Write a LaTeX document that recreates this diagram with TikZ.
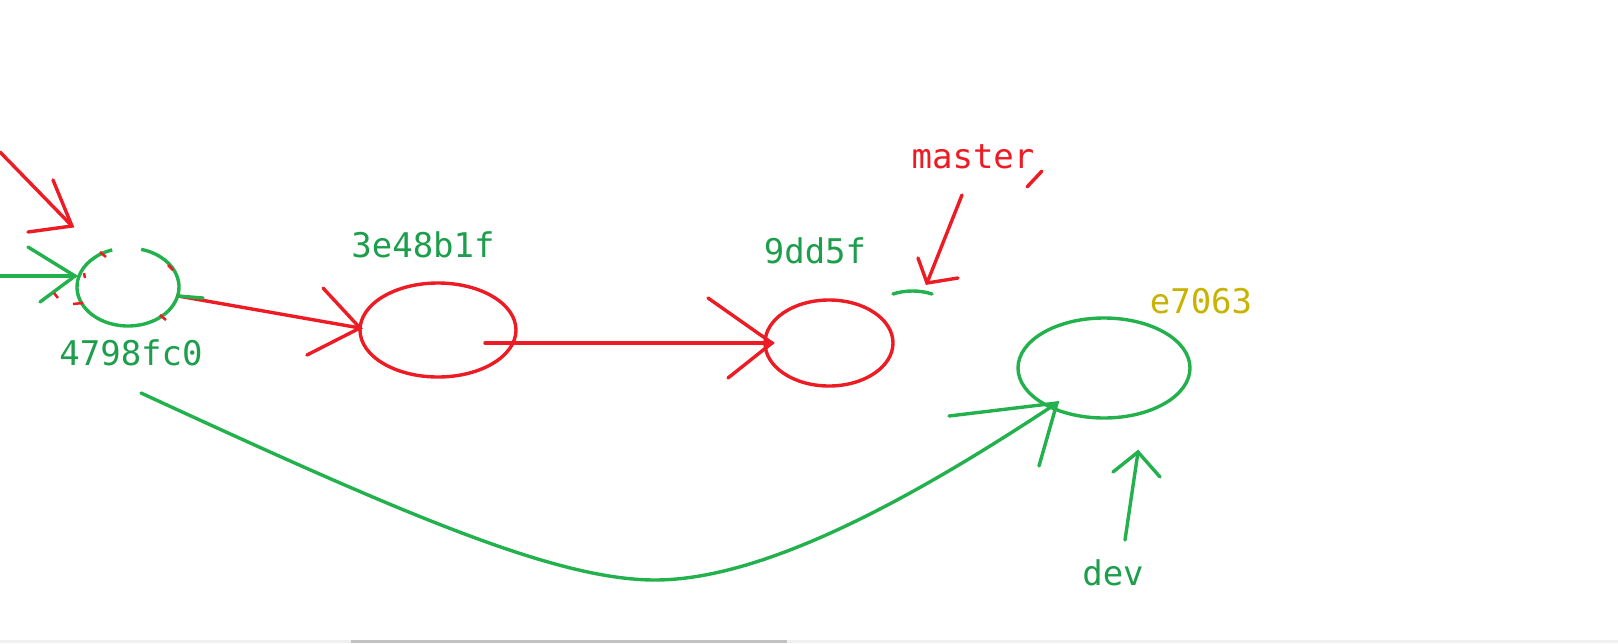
\documentclass[tikz,border=0pt]{standalone}
\usepackage{fontspec}
\newfontfamily\lblfont{DejaVu Sans Mono}
\usetikzlibrary{shapes.geometric}
\definecolor{pred}{HTML}{ED1C24}
\definecolor{pgreen}{HTML}{22B14C}
\definecolor{tgreen}{HTML}{1C9E4C}
\definecolor{tyellow}{HTML}{C8B400}
\begin{document}
\begin{tikzpicture}[x=1pt,y=-1pt,
  redline/.style={draw=pred,line width=3.4pt,line cap=round},
  greenline/.style={draw=pgreen,line width=3.4pt,line cap=round},
  lbl/.style={anchor=base,inner sep=0pt,font=\lblfont\fontsize{34}{40}\selectfont}]
\useasboundingbox (0,0) rectangle (1618,643);
\fill[white] (0,0) rectangle (1618,643);
% scrollbar at the bottom
\fill[black!6] (0,640) rectangle (1618,643);
\fill[black!24] (351,640) rectangle (787,643);
% commits
\node[draw=none,minimum width=102pt,minimum height=78pt,inner sep=0pt] (c1) at (128,287) {};
\draw[greenline,line cap=butt] (128,287) ++(-75:51 and 39) arc[start angle=-75,end angle=252,x radius=51,y radius=39];
\node[draw=pred,line width=3.4pt,ellipse,minimum width=156pt,minimum height=94pt,inner sep=0pt] (c2) at (438,330) {};
\node[draw=pred,line width=3.4pt,ellipse,minimum width=128pt,minimum height=86pt,inner sep=0pt] (c3) at (829,343) {};
\node[draw=pgreen,line width=3.4pt,ellipse,minimum width=172pt,minimum height=100pt,inner sep=0pt] (c4) at (1104,368) {};
% labels
\node[lbl,text=tgreen] (l1) at (131,365) {4798fc0};
\node[lbl,text=tgreen] (l2) at (423,257) {3e48b1f};
\node[lbl,text=tgreen] (l3) at (815,263) {9dd5f};
\node[lbl,text=pred] (lm) at (973,168) {master};
\node[lbl,text=tyellow] (l4) at (1201,313) {e7063};
\node[lbl,text=tgreen] (ld) at (1113,585) {dev};
% coordinates
\coordinate (inR) at (0,152);
\coordinate (tipR) at (72,226);
\coordinate (hR1) at (53,180);
\coordinate (hR2) at (28,232);
\coordinate (inG) at (0,276);
\coordinate (tipG) at (75,276);
\coordinate (hG1) at (28,247);
\coordinate (hG2) at (40,302);
\coordinate (a1s) at (178,296);
\coordinate (a1t) at (360,328);
\coordinate (a1h1) at (323,288);
\coordinate (a1h2) at (307,355);
\coordinate (a2s) at (485,343);
\coordinate (a2t) at (772,343);
\coordinate (a2h1) at (708,298);
\coordinate (a2h2) at (728,378);
\coordinate (ms) at (962,195);
\coordinate (mt) at (927,283);
\coordinate (mh1) at (918,258);
\coordinate (mh2) at (958,278);
\coordinate (cs) at (141,393);
\coordinate (cb) at (655,580);
\coordinate (ct) at (1057,403);
\coordinate (ch1) at (949,416);
\coordinate (ch2) at (1039,466);
\coordinate (ds) at (1125,540);
\coordinate (dt) at (1138,452);
\coordinate (dh1) at (1113,472);
\coordinate (dh2) at (1160,477);
% left incoming arrows
\draw[redline] (inR) -- (tipR);
\draw[redline] (hR1) -- (tipR) -- (hR2);
\draw[greenline] (inG) -- (tipG);
\draw[greenline] (hG1) -- (tipG) -- (hG2);
% red remnants on c1
\draw[draw=pred,line width=2.5pt] (100,252) -- (106,257);
\draw[draw=pred,line width=2.5pt] (168,265) -- (173,270);
\draw[draw=pred,line width=2.5pt] (84,273) -- (85,278);
\draw[draw=pred,line width=2.5pt] (73,304) -- (83,303);
\draw[draw=pred,line width=2.5pt] (54,293) -- (58,298);
\draw[draw=pred,line width=2.5pt] (160,315) -- (166,320);
% red chain
\draw[redline] (a1s) -- (a1t);
\draw[greenline] (a1s) -- (203,298);
\draw[redline] (a1h1) -- (a1t) -- (a1h2);
\draw[redline] (a2s) -- (a2t);
\draw[redline] (a2h1) -- (a2t) -- (a2h2);
% master pointer
\draw[redline] (ms) -- (mt);
\draw[redline] (mh1) -- (mt) -- (mh2);
\draw[redline] (1027,187) -- (1042,171);
\draw[greenline] (893,294) .. controls (905,290) and (920,290) .. (932,294);
% green curve c1 -> c4
\draw[greenline] (cs) .. controls (401,513) and (555,580) .. (cb)
  .. controls (770,580) and (927,489) .. (ct);
\draw[greenline] (ch1) -- (ct) -- (ch2);
% dev pointer
\draw[greenline] (ds) -- (dt);
\draw[greenline] (dh1) -- (dt) -- (dh2);
\end{tikzpicture}
\end{document}
